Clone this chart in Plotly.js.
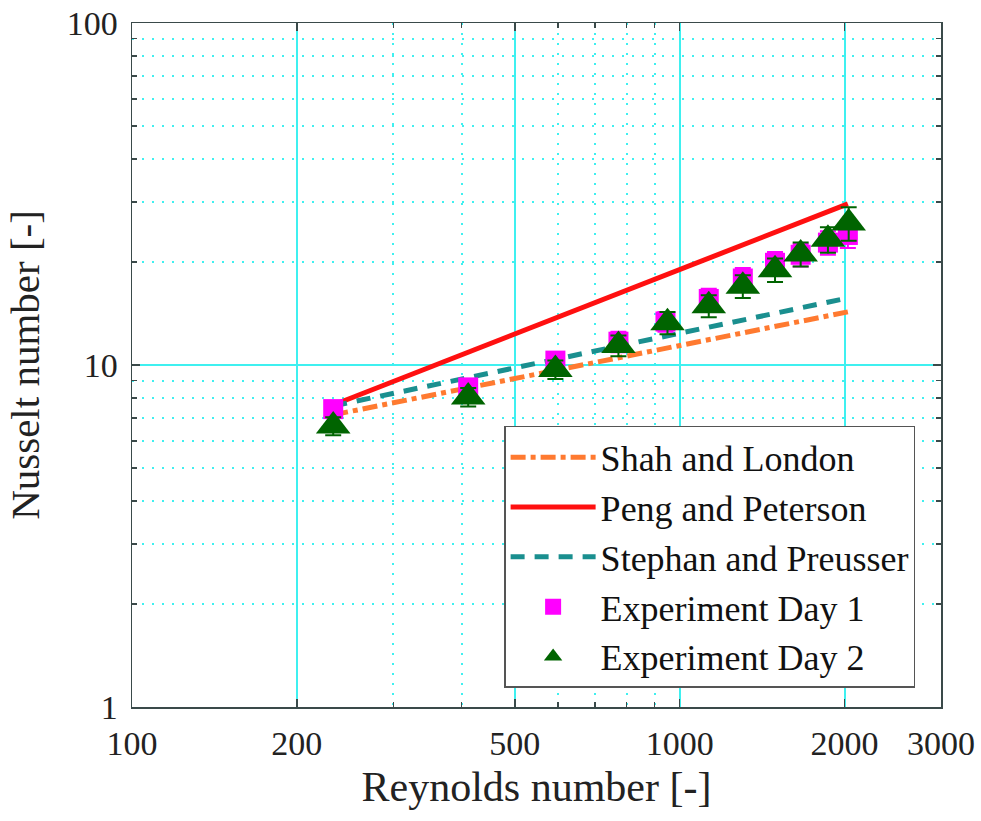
<!DOCTYPE html>
<html>
<head>
<meta charset="utf-8">
<script src="https://cdn.plot.ly/plotly-3.0.1.min.js"></script>
<style>html,body{margin:0;padding:0;background:#fff;}#plot{width:981px;height:821px;}</style>
</head>
<body>
<div id="plot"></div>
<script>
// Reynolds numbers of the measured points
const reDay1 = [233, 411, 593, 773, 942, 1130, 1304, 1493, 1663, 1865, 2028];
const reDay2 = [233, 411, 593, 773, 950, 1130, 1304, 1493, 1663, 1865, 2035];
// Nusselt numbers
const nuDay1 = [7.43, 8.6, 10.3, 11.7, 13.4, 15.6, 17.9, 19.9, 21.0, 22.8, 24.0];
const nuDay2 = [6.63, 8.06, 9.7, 11.4, 13.3, 14.9, 17.0, 19.0, 21.1, 23.3, 26.0];
// Error bar half-widths
const errDay1 = [0.4, 0.5, 0.6, 0.8, 0.9, 1.1, 1.3, 1.5, 1.6, 1.8, 2.0];
const errDay2 = [0.4, 0.5, 0.6, 0.8, 1.0, 1.1, 1.3, 1.5, 1.7, 2.0, 2.9];
// Correlation lines (end points, straight in log-log)
const reCorr = [233, 2028];
const nuShah = [7.15, 14.3];
const nuPeng = [7.64, 29.6];
const nuStephan = [7.59, 15.7];
// Axis ticks
const xTicks = [100, 200, 500, 1000, 2000, 3000];
const xTickText = ['100', '200', '500', '1000', '2000', '3000'];
const xMinor = [300, 400, 600, 700, 800, 900];
const yTicks = [1, 10, 100];
const yTickText = ['1', '10', '100'];
const yMinor = [2, 3, 4, 5, 6, 7, 8, 9, 20, 30, 40, 50, 60, 70, 80, 90];

const serif = '"Liberation Serif", "Times New Roman", serif';
const gridCol = '#3ff0f0';

const traces = [
  {x: reCorr, y: nuShah, name: 'Shah and London', mode: 'lines',
   line: {color: '#ff7a30', width: 5, dash: '15px,5px,5px,5px'}},
  {x: reCorr, y: nuPeng, name: 'Peng and Peterson', mode: 'lines',
   line: {color: '#ff1010', width: 5}},
  {x: reCorr, y: nuStephan, name: 'Stephan and Preusser', mode: 'lines',
   line: {color: '#1a8f8f', width: 5, dash: '14px,10px'}},
  {x: reDay1, y: nuDay1, name: 'Experiment Day 1', mode: 'markers',
   marker: {symbol: 'square', size: 20, color: '#ff00ff'},
   error_y: {type: 'data', array: errDay1, visible: true, color: '#ff00ff', thickness: 2, width: 8}},
  {x: reDay2, y: nuDay2, name: 'Experiment Day 2', mode: 'markers',
   marker: {symbol: 'triangle-up', size: 30, color: '#006400'},
   error_y: {type: 'data', array: errDay2, visible: true, color: '#006400', thickness: 2, width: 8}}
];

const axisCommon = {
  type: 'log', showline: true, mirror: 'ticks', linecolor: '#3a4a4a', linewidth: 1.5,
  ticks: 'inside', ticklen: 8, tickwidth: 1.5, tickcolor: '#3a4a4a',
  tickmode: 'array', showgrid: true, gridcolor: gridCol, gridwidth: 2,
  zeroline: false, tickfont: {family: serif, size: 34, color: '#222'}
};

const layout = {
  width: 981, height: 821,
  margin: {l: 132, r: 40, t: 23, b: 114},
  paper_bgcolor: '#ffffff', plot_bgcolor: '#ffffff',
  showlegend: true,
  xaxis: Object.assign({}, axisCommon, {
    range: [Math.log10(100), Math.log10(3000)],
    tickvals: xTicks, ticktext: xTickText,
    ticklabelstandoff: 6,
    minor: {tickmode: 'array', tickvals: xMinor, ticks: 'inside', ticklen: 5, tickcolor: '#3a4a4a',
            showgrid: true, gridcolor: gridCol, gridwidth: 2, griddash: '2px,8px'},
    title: {text: 'Reynolds number [-]', font: {family: serif, size: 42, color: '#222'}, standoff: 10}
  }),
  yaxis: Object.assign({}, axisCommon, {
    range: [0, 2],
    tickvals: yTicks, ticktext: yTickText,
    ticklabelstandoff: 6,
    minor: {tickmode: 'array', tickvals: yMinor, ticks: 'inside', ticklen: 5, tickcolor: '#3a4a4a',
            showgrid: true, gridcolor: gridCol, gridwidth: 2, griddash: '2px,8px'},
    title: {text: 'Nusselt number [-]', font: {family: serif, size: 41, color: '#222'}, standoff: 14}
  }),
  legend: {
    x: 0.968, xanchor: 'right', y: 0.028, yanchor: 'bottom',
    bgcolor: '#ffffff', bordercolor: '#555', borderwidth: 1.5,
    font: {family: serif, size: 36, color: '#111'},
    itemwidth: 85, tracegroupgap: 0
  }
};

Plotly.newPlot('plot', traces, layout, {staticPlot: true, displayModeBar: false});
</script>
</body>
</html>
